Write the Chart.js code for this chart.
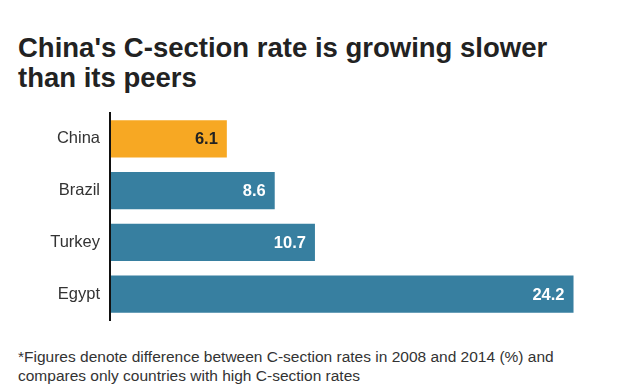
<!DOCTYPE html>
<html>
<head>
<meta charset="utf-8">
<script src="https://cdn.jsdelivr.net/npm/chart.js@4"></script>
<style>
  html, body { margin: 0; padding: 0; background: #fff; }
  body { width: 622px; height: 384px; position: relative; overflow: hidden; font-family: "Liberation Sans", Arial, sans-serif; }
  #title { position: absolute; left: 18px; top: 33px; font-size: 27.5px; font-weight: bold; line-height: 30px; color: #222; white-space: nowrap; }
  #chart { position: absolute; left: 0; top: 105px; }
  #note { position: absolute; left: 18px; top: 347px; font-size: 15.5px; line-height: 19px; color: #333; white-space: nowrap; }
</style>
</head>
<body>
<div id="title">China's C-section rate is growing slower<br>than its peers</div>
<canvas id="chart" width="622" height="225"></canvas>
<div id="note">*Figures denote difference between C-section rates in 2008 and 2014 (%) and<br>compares only countries with high C-section rates</div>
<script>
const countries = ['China', 'Brazil', 'Turkey', 'Egypt'];
const rateGrowth = [6.1, 8.6, 10.7, 24.2];
const barColors = ['#F7A823', '#377FA0', '#377FA0', '#377FA0'];
const labelColors = ['#222222', '#ffffff', '#ffffff', '#ffffff'];

// value labels drawn inside the bar end
const barLabels = {
    id: 'barLabels',
    afterDatasetsDraw(chart) {
        const ctx = chart.ctx;
        const meta = chart.getDatasetMeta(0);
        ctx.save();
        ctx.font = 'bold 16.5px "Liberation Sans", Arial, sans-serif';
        ctx.textAlign = 'right';
        ctx.textBaseline = 'middle';
        meta.data.forEach((bar, i) => {
            ctx.fillStyle = labelColors[i];
            ctx.fillText(rateGrowth[i].toFixed(1), bar.x - 9, bar.y + 1);
        });
        ctx.restore();
    }
};

new Chart(document.getElementById('chart'), {
    type: 'bar',
    data: {
        labels: countries,
        datasets: [{
            data: rateGrowth,
            backgroundColor: barColors,
            borderWidth: 0,
            categoryPercentage: 1,
            barPercentage: 0.72,
        }],
    },
    options: {
        indexAxis: 'y',
        responsive: false,
        animation: false,
        layout: { padding: { top: 8, bottom: 10, right: 14, left: 0 } },
        plugins: { legend: { display: false }, tooltip: { enabled: false } },
        scales: {
            x: { display: false, min: 0, max: 26 },
            y: {
                afterFit(scale) {
                    scale.width = 110;
                    scale.paddingTop = 0;
                    scale.paddingBottom = 0;
                },
                grid: { display: false, drawTicks: false },
                border: { display: true, color: '#111', width: 2, z: 1 },
                ticks: {
                    padding: 10,
                    color: '#333',
                    font: { family: '"Liberation Sans", Arial, sans-serif', size: 16.5 }
                }
            }
        }
    },
    plugins: [barLabels],
});
</script>
</body>
</html>
